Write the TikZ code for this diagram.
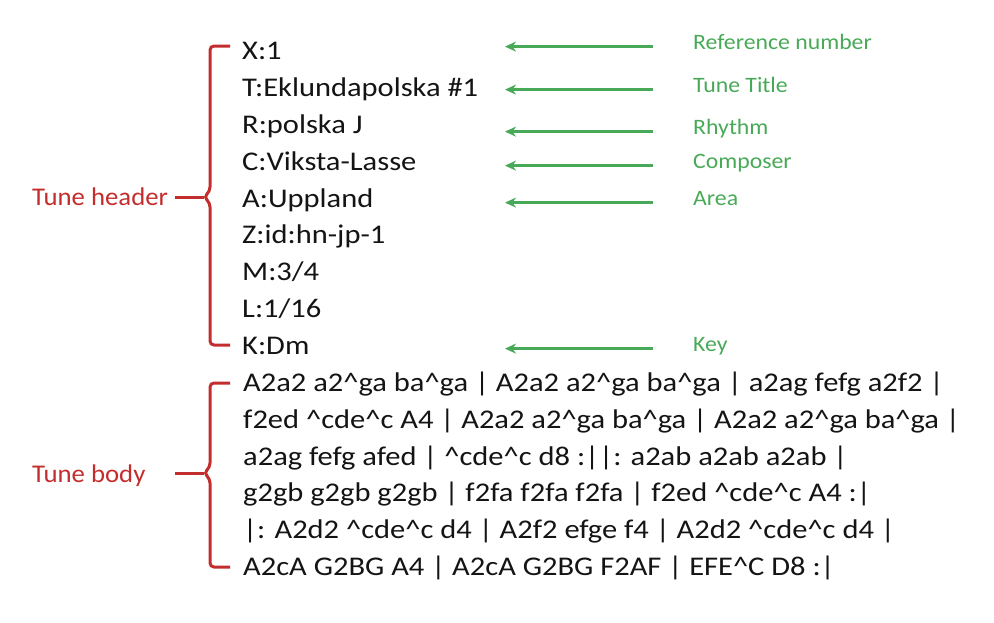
\documentclass[tikz,border=0pt]{standalone}
\usepackage{fontspec}
\setmainfont{Carlito}
\newfontfamily\fieldfont[FakeStretch=1.13]{Carlito}
\newfontfamily\notefont[FakeStretch=1.08]{Carlito}
\newfontfamily\partfont[FakeStretch=1.05]{Carlito}
\usetikzlibrary{arrows.meta}
\definecolor{abcred}{RGB}{196,45,45}
\definecolor{abcgreen}{RGB}{72,170,88}
\definecolor{abctext}{RGB}{20,20,20}
\newcommand{\crt}{\textasciicircum}

\begin{document}
\begin{tikzpicture}[x=1pt,y=-1pt,
  field/.style={anchor=base west, inner sep=0pt, text=abctext, font=\fieldfont\fontsize{27}{31}\selectfont},
  note/.style={anchor=base west, inner sep=0pt, text=abcgreen, font=\notefont\fontsize{22}{26}\selectfont},
  part/.style={anchor=base west, inner sep=0pt, text=abcred, font=\partfont\fontsize{25.5}{30}\selectfont},
  pointer/.style={abcgreen, line width=2.8pt, -{Stealth[length=11pt,width=10pt]}},
  brace/.style={abcred, line width=3pt, rounded corners=4pt}]
\useasboundingbox (0,0) rectangle (994,622);
% header fields
\node[field] (hX) at (242,59) {X:1};
\node[field] (hT) at (242,96) {T:Eklundapolska \#1};
\node[field] (hR) at (242,133) {R:polska J};
\node[field] (hC) at (242,170) {C:Viksta-Lasse};
\node[field] (hA) at (242,207) {A:Uppland};
\node[field] (hZ) at (242,243) {Z:id:hn-jp-1};
\node[field] (hM) at (242,280) {M:3/4};
\node[field] (hL) at (242,317) {L:1/16};
\node[field] (hK) at (242,354) {K:Dm};
% body lines
\node[field] (b1) at (243,391) {A2a2 a2\crt ga ba\crt ga | A2a2 a2\crt ga ba\crt ga | a2ag fefg a2f2 |};
\node[field] (b2) at (243,428) {f2ed \crt cde\crt c A4 | A2a2 a2\crt ga ba\crt ga | A2a2 a2\crt ga ba\crt ga |};
\node[field] (b3) at (243,465) {a2ag fefg afed | \crt cde\crt c d8 :||: a2ab a2ab a2ab |};
\node[field] (b4) at (243,501) {g2gb g2gb g2gb | f2fa f2fa f2fa | f2ed \crt cde\crt c A4 :|};
\node[field] (b5) at (243,538) {|: A2d2 \crt cde\crt c d4 | A2f2 efge f4 | A2d2 \crt cde\crt c d4 |};
\node[field] (b6) at (243,575) {A2cA G2BG A4 | A2cA G2BG F2AF | EFE\crt C D8 :|};
% notes
\node[note] (nX) at (693,49) {Reference number};
\node[note] (nT) at (693,92) {Tune Title};
\node[note] (nR) at (693,134) {Rhythm};
\node[note] (nC) at (693,168) {Composer};
\node[note] (nA) at (693,205) {Area};
\node[note] (nK) at (693,351) {Key};
% parts
\node[part] (head) at (32,205) {Tune header};
\node[part] (body) at (32,482) {Tune body};
% arrows
\coordinate (tip) at (505,0);
\draw[pointer] ([xshift=-40pt]nX.mid west) -- (tip |- nX.mid west);
\draw[pointer] ([xshift=-40pt]nT.mid west) -- (tip |- nT.mid west);
\draw[pointer] ([xshift=-40pt]nR.mid west) -- (tip |- nR.mid west);
\draw[pointer] ([xshift=-40pt]nC.mid west) -- (tip |- nC.mid west);
\draw[pointer] ([xshift=-40pt]nA.mid west) -- (tip |- nA.mid west);
\draw[pointer] ([xshift=-40pt]nK.mid west) -- (tip |- nK.mid west);
% braces
\coordinate (hcusp) at (204,197);
\coordinate (bcusp) at (204,473);
\draw[brace] (230,46) -| (210,191) -- (hcusp) -- (210,203) |- (230,345);
\draw[abcred, line width=3pt] (175,197) -- (hcusp);
\draw[brace] (230,383) -| (210,467) -- (bcusp) -- (210,479) |- (230,567);
\draw[abcred, line width=3pt] (175,473) -- (bcusp);
\end{tikzpicture}
\end{document}
